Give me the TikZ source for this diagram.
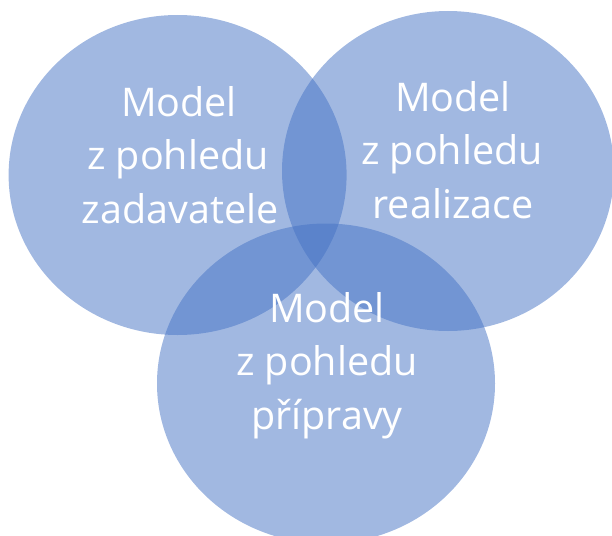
\documentclass[tikz,border=0pt]{standalone}
\usepackage{fontspec}
\setmainfont{Open Sans}
\definecolor{venn}{HTML}{4472C4}
\begin{document}
\begin{tikzpicture}[x=1pt,y=-1pt,
  circ/.style={fill=venn,fill opacity=0.5,draw=none},
  lbl/.style={text=white,font=\fontsize{39.5}{46}\selectfont,anchor=base,inner sep=0pt}]
\useasboundingbox (0,0) rectangle (612,535);
\begin{scope}
\clip (0,0) rectangle (612,535);
\fill[circ] (177.6,175) ellipse [x radius=169, y radius=160];
\fill[circ] (448,171) ellipse [x radius=166, y radius=160];
\fill[circ] (326,383.5) ellipse [x radius=169, y radius=160];
\end{scope}
\node[lbl] (a1) at (179,116) {Model};
\node[lbl] (a2) at (178,169) {z pohledu};
\node[lbl] (a3) at (180,223.5) {zadavatele};
\node[lbl] (b1) at (453,111) {Model};
\node[lbl] (b2) at (452,164) {z pohledu};
\node[lbl] (b3) at (453,218) {realizace};
\node[lbl] (c1) at (327,322.5) {Model};
\node[lbl] (c2) at (327,375.5) {z pohledu};
\node[lbl] (c3) at (327,429) {přípravy};
\end{tikzpicture}
\end{document}
